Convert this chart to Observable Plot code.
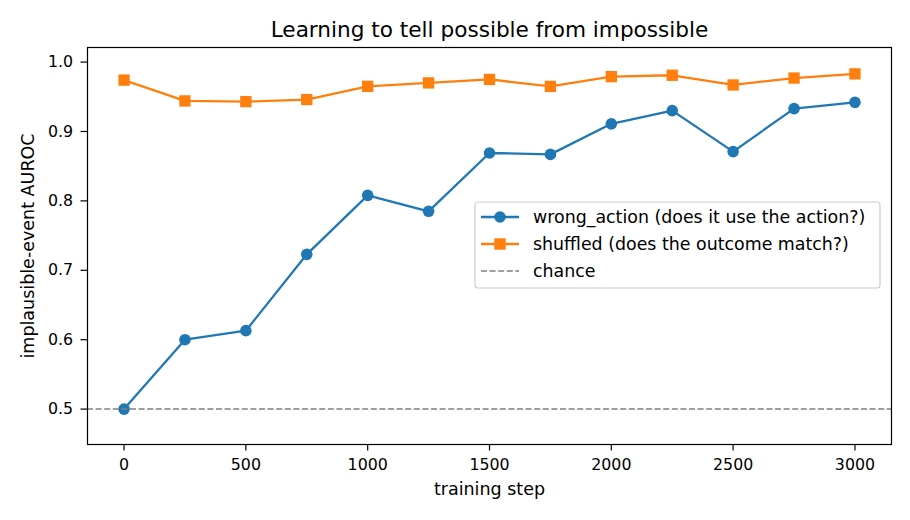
<!DOCTYPE html>
<html><head><meta charset="utf-8">
<script src="https://cdn.jsdelivr.net/npm/d3@7"></script>
<script src="https://cdn.jsdelivr.net/npm/@observablehq/plot@0.6"></script>
<style>body{margin:0;background:#fff} #chart svg{display:block}</style>
</head><body><div id="chart"></div>
<script>
const steps = [0, 250, 500, 750, 1000, 1250, 1500, 1750, 2000, 2250, 2500, 2750, 3000];
const wrongAction = [0.500, 0.600, 0.613, 0.723, 0.808, 0.785, 0.869, 0.867, 0.911, 0.930, 0.871, 0.933, 0.942];
const shuffled = [0.974, 0.944, 0.943, 0.946, 0.965, 0.970, 0.975, 0.965, 0.979, 0.981, 0.967, 0.977, 0.983];
const chance = 0.5;
const seriesNames = ["wrong_action (does it use the action?)", "shuffled (does the outcome match?)", "chance"];
const seriesColors = ["#1f77b4", "#ff7f0e", "#808080"];
const xTicks = [0, 500, 1000, 1500, 2000, 2500, 3000];
const yTicks = [0.5, 0.6, 0.7, 0.8, 0.9, 1.0];
const titleText = "Learning to tell possible from impossible";
const xLabel = "training step";
const yLabel = "implausible-event AUROC";

const wrongRows = steps.map((s, i) => ({step: s, auroc: wrongAction[i]}));
const shufRows = steps.map((s, i) => ({step: s, auroc: shuffled[i]}));

const font = "'DejaVu Sans', sans-serif";
const dash = "6,2.6";
const plot = Plot.plot({
  width: 910, height: 520,
  marginLeft: 87, marginRight: 19, marginTop: 47, marginBottom: 76,
  style: {fontFamily: font, fontSize: "15.8px", background: "#fff", color: "#000"},
  x: {domain: [-150, 3150]},
  y: {domain: [0.449, 1.021]},
  marks: [
    Plot.line(wrongRows, {x: "step", y: "auroc", stroke: seriesColors[0], strokeWidth: 2.3}),
    Plot.dot(wrongRows, {x: "step", y: "auroc", r: 5.8, fill: seriesColors[0], symbol: "circle"}),
    Plot.line(shufRows, {x: "step", y: "auroc", stroke: seriesColors[1], strokeWidth: 2.3}),
    Plot.dot(shufRows, {x: "step", y: "auroc", r: 6.4, fill: seriesColors[1], symbol: "square"}),
    Plot.ruleY([chance], {stroke: seriesColors[2], strokeWidth: 1.5, strokeDasharray: dash}),
    Plot.frame({stroke: "#000", strokeWidth: 1.2}),
    Plot.axisX({ticks: xTicks, tickFormat: d3.format("d"), tickSize: 6.5, tickPadding: 8, label: null, stroke: "#000", strokeWidth: 1.2, fill: "#000", fontSize: 15.8}),
    Plot.axisY({ticks: yTicks, tickFormat: d3.format(".1f"), tickSize: 6.5, tickPadding: 8, label: null, stroke: "#000", strokeWidth: 1.2, fill: "#000", fontSize: 15.8}),
    Plot.text([titleText], {frameAnchor: "top", lineAnchor: "middle", textAnchor: "middle", dy: -17.5, fontSize: 21.6, fill: "#000"}),
    Plot.text([xLabel], {frameAnchor: "bottom", lineAnchor: "middle", textAnchor: "middle", dy: 45, fontSize: 17.5, fill: "#000"}),
    Plot.text([yLabel], {frameAnchor: "left", lineAnchor: "middle", textAnchor: "middle", dx: -59, rotate: -90, fontSize: 17.5, fill: "#000"})
  ]
});
document.getElementById("chart").appendChild(plot);

// legend
const svg = d3.select(plot);
const lg = svg.append("g").attr("font-family", font).attr("font-size", "17.4px").attr("text-anchor", "start");
lg.append("rect").attr("x", 475).attr("y", 202).attr("width", 405).attr("height", 86)
  .attr("rx", 3).attr("fill", "#fff").attr("fill-opacity", 0.8).attr("stroke", "#cccccc").attr("stroke-width", 1.2);
const rowsY = [217, 244, 271];
seriesNames.forEach((name, i) => {
  const y = rowsY[i];
  const g = lg.append("g");
  g.append("line").attr("x1", 481).attr("x2", 519).attr("y1", y).attr("y2", y)
    .attr("stroke", seriesColors[i]).attr("stroke-width", i < 2 ? 2.3 : 1.5)
    .attr("stroke-dasharray", i === 2 ? dash : null);
  if (i === 0) g.append("circle").attr("cx", 500).attr("cy", y).attr("r", 5.8).attr("fill", seriesColors[0]);
  if (i === 1) g.append("rect").attr("x", 500 - 5.7).attr("y", y - 5.7).attr("width", 11.4).attr("height", 11.4).attr("fill", seriesColors[1]);
  g.append("text").attr("x", 533).attr("y", y).attr("dy", "0.35em").attr("fill", "#000").text(name);
});
</script></body></html>
